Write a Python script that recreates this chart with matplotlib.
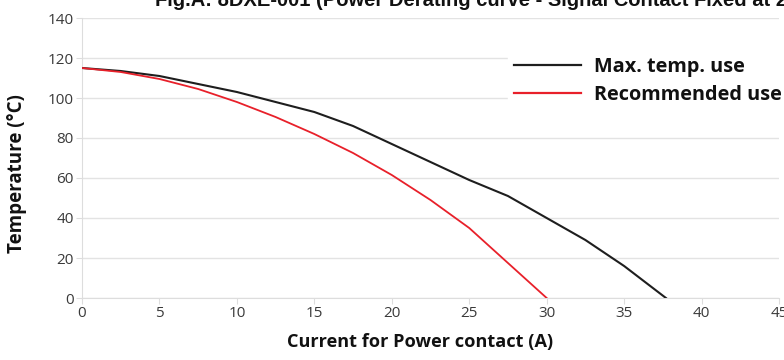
import matplotlib
matplotlib.use("Agg")
import matplotlib.pyplot as plt

current_max = [0, 2.5, 5, 7.5, 10, 12.5, 15, 17.5, 20, 22.5, 25, 27.5, 30, 32.5, 35, 37.7]
temp_max = [115, 113.5, 111, 107, 103, 98, 93, 86, 77, 68, 59, 51, 40, 29, 16, 0]
current_rec = [0, 2.5, 5, 7.5, 10, 12.5, 15, 17.5, 20, 22.5, 25, 27.5, 30]
temp_rec = [115, 113, 109.5, 104.5, 98, 90.5, 82, 72.5, 61.5, 49, 35, 17.5, 0]
x_ticks = [0, 5, 10, 15, 20, 25, 30, 35, 40, 45]
y_ticks = [0, 20, 40, 60, 80, 100, 120, 140]
series_names = ["Max. temp. use", "Recommended use"]
title_visible = "Fig.A: 8DXE-001 (Power Derating curve - Signal Contact Fixed at 2"
title_text = title_visible + "A)"
x_label = "Current for Power contact (A)"
y_label = "Temperature (°C)"

W, H = 784, 360
fig = plt.figure(figsize=(W / 100, H / 100), dpi=100)
renderer = fig.canvas.get_renderer()


def text_width(s, size, **kw):
    t = fig.text(0, 0, s, fontsize=size, **kw)
    w = t.get_window_extent(renderer).width
    t.remove()
    return w


def fit_size(s, target_px, **kw):
    return 12 * target_px / text_width(s, 12, **kw)


LABEL_FONT = dict(family="Open Sans", fontweight="bold")
TITLE_FONT = dict(family="Liberation Sans", fontweight="bold")

ax_l, ax_r, ax_t, ax_b = 82, 779, 18, 298
ax = fig.add_axes([ax_l / W, 1 - ax_b / H, (ax_r - ax_l) / W, (ax_b - ax_t) / H])

ax.plot(current_max, temp_max, color="#1e1e1e", lw=1.5, zorder=3)
ax.plot(current_rec, temp_rec, color="#e8202a", lw=1.3, zorder=3)

ax.set_xlim(0, 45)
ax.set_ylim(0, 140)
ax.set_xticks(x_ticks)
ax.set_yticks(y_ticks)
ax.grid(axis="y", color="#e3e3e3", lw=1)
ax.set_axisbelow(True)
for s in ["top", "right"]:
    ax.spines[s].set_visible(False)
ax.spines["left"].set_color("#dddddd")
ax.spines["bottom"].set_color("#dddddd")
ax.tick_params(axis="both", colors="#dddddd", length=4, labelcolor="#3a3a3a",
               labelsize=11, pad=2)
for lbl in ax.get_xticklabels() + ax.get_yticklabels():
    lbl.set_fontfamily("Open Sans")

xl_size = fit_size(x_label, 264, **LABEL_FONT)
yl_size = fit_size(y_label, 158, **LABEL_FONT)
ax.set_xlabel(x_label, fontsize=xl_size, color="#111111", **LABEL_FONT)
ax.set_ylabel(y_label, fontsize=yl_size, color="#111111", **LABEL_FONT)
ax.xaxis.set_label_coords((420 - ax_l) / (ax_r - ax_l), (ax_b - 342) / (ax_b - ax_t))
ax.xaxis.label.set_va("center")
ax.yaxis.set_label_coords((17 - ax_l) / (ax_r - ax_l), (ax_b - 174) / (ax_b - ax_t))
ax.yaxis.label.set_va("center")

# legend
leg_size = fit_size(series_names[1], 187, **LABEL_FONT)
fs_px = leg_size * 100 / 72
leg = ax.legend(
    [plt.Line2D([], [], color="#1e1e1e", lw=1.6), plt.Line2D([], [], color="#e8202a", lw=1.6)],
    series_names,
    loc="upper left",
    bbox_to_anchor=((508 - ax_l) / (ax_r - ax_l), 1 - (51 - ax_t) / (ax_b - ax_t)),
    frameon=True, framealpha=1, edgecolor="white", facecolor="white",
    prop={"family": "Open Sans", "weight": "bold", "size": leg_size},
    handlelength=67 / fs_px, handletextpad=13 / fs_px,
    labelspacing=(28 - fs_px * 1.0) / fs_px, borderpad=0.3, borderaxespad=0,
    fancybox=False,
)
for t in leg.get_texts():
    t.set_color("#111111")

# title (clipped at the top edge, as in the reference)
t_size = fit_size(title_visible, 630, **TITLE_FONT)
fig.text(155 / W, 1 - 6.5 / H, title_text, fontsize=t_size,
         va="baseline", ha="left", color="#111111", **TITLE_FONT)

fig.savefig("out.png", dpi=100)
